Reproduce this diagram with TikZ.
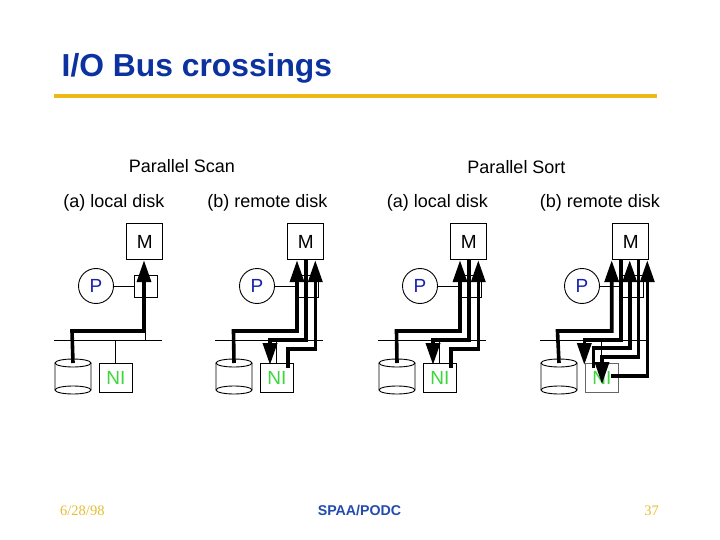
\documentclass[tikz,border=0pt]{standalone}
\usepackage{fontspec}
\setmainfont{Liberation Sans}
\newfontfamily\serifft{Liberation Serif}
\usetikzlibrary{arrows.meta}
\definecolor{gold}{RGB}{240,184,20}
\definecolor{titlenavy}{RGB}{12,50,160}
\definecolor{pblue}{RGB}{25,35,170}
\definecolor{nigreen}{RGB}{60,215,60}
\definecolor{footgold}{RGB}{228,190,50}
\definecolor{footblue}{RGB}{35,75,175}
\tikzset{
 box/.style={draw,line width=0.9pt,inner sep=0,anchor=north west},
 thin line/.style={line width=0.9pt},
 flow/.style={line width=3.6pt,line join=miter},
 flowtip/.style={flow,-{Triangle[length=22pt,width=14pt]}},
 head/.style={font=\fontsize{18}{20}\selectfont,anchor=center},
 lbl/.style={font=\fontsize{19}{21}\selectfont,anchor=center},
}
% #1 prefix, #2 x-offset, #3 NI box colour
\newcommand{\panelbase}[3]{%
 \begin{scope}[shift={(#2,0)}]
 \node[box,minimum width=36pt,minimum height=36pt] (#1M) at (126.3,223.3) {};
 \node[lbl] at (#1M.center) {M};
 \node[draw,circle,line width=0.9pt,minimum size=35pt,inner sep=0,text=pblue,font=\fontsize{19}{21}\selectfont] (#1P) at (96,286) {P};
 \node[box,minimum width=23pt,minimum height=22pt] (#1C) at (134,275) {};
 \coordinate (#1bl) at (54,340);
 \coordinate (#1br) at (162,340);
 \draw[thin line] (#1bl) -- (#1br);
 \draw[thin line] (#1P.east) -- (#1P.east -| #1C.west);
 \coordinate (#1cb) at (145,340);
 \draw[thin line] (#1cb) -- (#1cb |- #1C.south);
 \node[box,draw=#3,minimum width=33pt,minimum height=29pt] (#1N) at (99,363) {};
 \node[lbl,text=nigreen] at (#1N.center) {NI};
 \coordinate (#1ns) at (115.5,340);
 \draw[thin line] (#1ns) -- (#1ns |- #1N.north);
 % disk
 \draw[thin line,fill=white] (55,363) -- (55,390) arc[start angle=180,end angle=360,x radius=18,y radius=-4] -- (91,363);
 \draw[thin line] (55,390) arc[start angle=180,end angle=0,x radius=18,y radius=-4];
 \draw[thin line,fill=white] (73,363) ellipse[x radius=18,y radius=4];
 \node[inner sep=0,minimum size=0] (#1D) at (73,363) {};
 \end{scope}}
\begin{document}
\begin{tikzpicture}[x=1pt,y=-1pt]
\useasboundingbox (0,0) rectangle (720,540);
\fill[white] (0,0) rectangle (720,540);
\node[anchor=west,inner sep=0,font=\bfseries\fontsize{31.8}{34}\selectfont,text=titlenavy] (title) at (61.5,68) {I/O Bus crossings};
\coordinate (ra) at (54,96); \coordinate (rb) at (657,96);
\draw[gold,line width=3.4pt] (ra) -- (rb);
\node[head] (ps) at (182,166) {Parallel Scan};
\node[head] (pso) at (516.5,167) {Parallel Sort};
\node[head] at (114,203) {(a) local disk};
\node[head] at (267.5,203) {(b) remote disk};
\node[head] at (437.5,203) {(a) local disk};
\node[head] at (600,203) {(b) remote disk};
\panelbase{a}{0}{black}
\panelbase{b}{161}{black}
\panelbase{c}{324}{black}
\panelbase{d}{486}{black!60}
% panel a
\coordinate (a1) at (72,331); \coordinate (a2) at (144,331);
\draw[flowtip] (aD.center) -- (a1) -- (a2) -- (a2 |- aM.south);
% panels b, c
\foreach \p/\o in {b/161,c/324}{
 \begin{scope}[shift={(\o,0)}]
 \coordinate (\p1) at (72.5,331); \coordinate (\p2) at (136,331);
 \coordinate (\p3) at (145,340); \coordinate (\p4) at (109,340);
 \coordinate (\p5) at (126.7,349); \coordinate (\p6) at (154.3,349);
 \coordinate (\p7) at (126.7,368);
 \end{scope}
 \draw[flowtip] (\p D.center) -- (\p1) -- (\p2) -- (\p2 |- \p M.south);
 \draw[flowtip] (\p3 |- \p M.south) -- (\p3) -- (\p4) -- (\p4 |- 0,365);
 \draw[flowtip] (\p7) -- (\p5) -- (\p6) -- (\p6 |- \p M.south);
}
% panel d
\begin{scope}[shift={(486,0)}]
 \coordinate (d1) at (71.5,331); \coordinate (d2) at (125.7,331);
 \coordinate (d3) at (134.7,340); \coordinate (d4) at (98.3,340);
 \coordinate (d5) at (107.3,348); \coordinate (d6) at (143.7,348);
 \coordinate (d7) at (107.3,368);
 \coordinate (d8) at (152.3,356.7); \coordinate (d9) at (116,356.7);
 \coordinate (d10) at (125,376); \coordinate (d11) at (161.3,376);
 \coordinate (d12) at (116,384); \coordinate (d13) at (98.3,365);
\end{scope}
\draw[flowtip] (dD.center) -- (d1) -- (d2) -- (d2 |- dM.south);
\draw[flowtip] (d3 |- dM.south) -- (d3) -- (d4) -- (d13);
\draw[flowtip] (d7) -- (d5) -- (d6) -- (d6 |- dM.south);
\draw[flowtip] (d8 |- dM.south) -- (d8) -- (d9) -- (d12);
\draw[flowtip] (d10) -- (d11) -- (d11 |- dM.south);
% footer
\node[anchor=west,inner sep=0,font=\serifft\fontsize{14.5}{16}\selectfont,text=footgold] (f1) at (60,511) {6/28/98};
\node[anchor=center,font=\bfseries\fontsize{14.2}{15}\selectfont,text=footblue] (f2) at (359.5,510.5) {SPAA/PODC};
\node[anchor=east,inner sep=0,font=\serifft\fontsize{14.5}{16}\selectfont,text=footgold] (f3) at (659,511) {37};
\end{tikzpicture}
\end{document}
